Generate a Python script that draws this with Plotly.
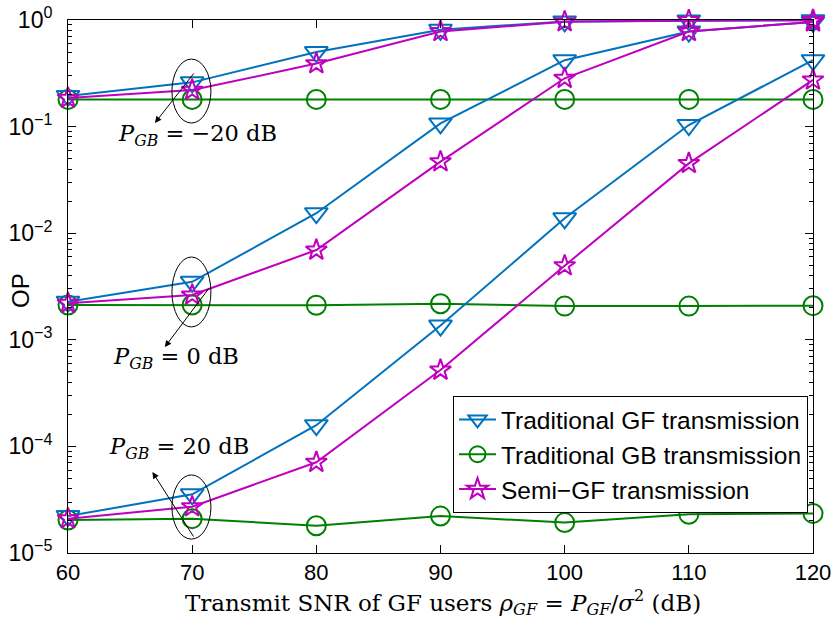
import numpy as np
import plotly.graph_objects as go

snr = [60, 70, 80, 90, 100, 110, 120]

# P_GB = -20 dB
gf_m20 = [0.194, 0.26, 0.50, 0.81, 0.97, 0.99, 0.995]
gb_m20 = [0.18, 0.18, 0.18, 0.18, 0.18, 0.18, 0.18]
semi_m20 = [0.185, 0.22, 0.39, 0.78, 0.965, 0.99, 0.995]

# P_GB = 0 dB
gf_0 = [0.00228, 0.0035, 0.0154, 0.107, 0.42, 0.78, 0.96]
gb_0 = [0.00212, 0.00212, 0.00211, 0.00218, 0.00207, 0.00207, 0.00209]
semi_0 = [0.0022, 0.00263, 0.00695, 0.0469, 0.284, 0.78, 0.96]

# P_GB = 20 dB
gf_20 = [2.22e-5, 3.55e-5, 1.58e-4, 1.36e-3, 0.0138, 0.1035, 0.42]
gb_20 = [2.04e-5, 2.1e-5, 1.8e-5, 2.22e-5, 1.93e-5, 2.31e-5, 2.35e-5]
semi_20 = [2.1e-5, 2.72e-5, 7.1e-5, 5.2e-4, 4.96e-3, 0.0452, 0.274]

ytick_vals = [1e-5, 1e-4, 1e-3, 1e-2, 1e-1, 1e0]
ytick_text = ["10<sup>\u22125</sup>", "10<sup>\u22124</sup>", "10<sup>\u22123</sup>",
              "10<sup>\u22122</sup>", "10<sup>\u22121</sup>", "10<sup>0</sup>"]
xtick_vals = [60, 70, 80, 90, 100, 110, 120]

BLUE = "#0072BD"
GREEN = "#008000"
MAGENTA = "#BF00BF"

series = [
    ("Traditional GF transmission", "gf", BLUE, "triangle-down-open", 20, [gf_m20, gf_0, gf_20]),
    ("Traditional GB transmission", "gb", GREEN, "circle-open", 19, [gb_m20, gb_0, gb_20]),
    ("Semi\u2212GF transmission", "semi", MAGENTA, "star-open", 16, [semi_m20, semi_0, semi_20]),
]

fig = go.Figure()
order = [1, 0, 2]
for idx in order:
    name, grp, col, sym, sz, datas = series[idx]
    for k, d in enumerate(datas):
        fig.add_trace(go.Scatter(
            x=snr, y=d, mode="lines+markers", name=name, legendgroup=grp,
            showlegend=(k == 0), legendrank=idx + 1,
            line=dict(color=col, width=2),
            marker=dict(symbol=sym, size=sz, color=col, line=dict(color=col, width=2)),
            cliponaxis=False,
        ))

minor_vals = [m * 10.0 ** e for e in range(-5, 0) for m in range(2, 10)]

serif = "DejaVu Serif"
sans = "Liberation Sans, Arial, sans-serif"
ann_font = dict(family=serif, size=22.5, color="black")

annotations = []
# arrows (head in data coords, tail offset in pixels)
for (hx, hy, ax, ay) in [(67.0, -0.966, 40, -51), (67.8, -3.068, 45, -60), (66.8, -4.24, 42, 66)]:
    annotations.append(dict(x=hx, y=hy, xref="x", yref="y", ax=ax, ay=ay, text="",
                            showarrow=True, arrowhead=2, arrowsize=1.3, arrowwidth=1,
                            arrowcolor="black"))
for (tx, ty, lab) in [(70.4, -1.079, "\u221220 dB"), (68.7, -3.171, "0 dB"), (68.9, -4.015, "20 dB")]:
    annotations.append(dict(x=tx, y=ty, xref="x", yref="y", showarrow=False,
                            text="<i>P</i><sub><i>GB</i></sub> = " + lab, font=ann_font))

# axis titles
annotations.append(dict(x=0.504, y=-0.092, xref="paper", yref="paper", showarrow=False,
                        xanchor="center", yanchor="middle",
                        text="Transmit SNR of GF users <i>\u03c1</i><sub><i>GF</i></sub> = <i>P</i><sub><i>GF</i></sub>/<i>\u03c3</i><sup>2</sup> (dB)",
                        font=dict(family=serif, size=23)))
annotations.append(dict(x=-0.063, y=0.4916, xref="paper", yref="paper", showarrow=False,
                        xanchor="center", yanchor="middle", textangle=-90,
                        text="OP", font=dict(family=sans, size=24)))

ellipses = [(68.37, 71.51, 0.108, 0.43), (68.37, 71.51, 0.00132, 0.00598), (68.37, 71.51, 1.35e-5, 5.4e-5)]
shapes = []
for (x0, x1, y0, y1) in ellipses:
    shapes.append(dict(type="circle", xref="x", yref="y", x0=x0, x1=x1, y0=y0, y1=y1,
                       line=dict(color="black", width=1)))

fig.update_layout(
    width=835, height=621,
    margin=dict(l=68, r=22, t=20, b=68),
    paper_bgcolor="white", plot_bgcolor="white",
    font=dict(family=sans, size=22, color="black"),
    showlegend=True,
    legend=dict(x=0.9933, y=0.2946, xanchor="right", yanchor="top",
                bordercolor="black", borderwidth=1, bgcolor="white",
                font=dict(family=sans, size=24.5),
                itemwidth=37, tracegroupgap=0, traceorder="normal"),
    annotations=annotations,
    shapes=shapes,
)
fig.update_xaxes(
    range=[60, 120], tickvals=xtick_vals, ticks="inside", ticklen=8, tickwidth=1,
    tickcolor="black", showline=True, linecolor="black", linewidth=1, mirror="ticks",
    showgrid=False, zeroline=False, automargin=False,
)
fig.update_yaxes(
    type="log", range=[-5, 0], tickvals=ytick_vals, ticktext=ytick_text,
    ticks="inside", ticklen=8, tickwidth=1, tickcolor="black", ticklabelstandoff=10,
    tickfont=dict(family=sans, size=23),
    minor=dict(tickvals=minor_vals, ticks="inside", ticklen=4, tickcolor="black", showgrid=False),
    showline=True, linecolor="black", linewidth=1, mirror="ticks",
    showgrid=False, zeroline=False, automargin=False,
)

fig.write_html("out.html")
